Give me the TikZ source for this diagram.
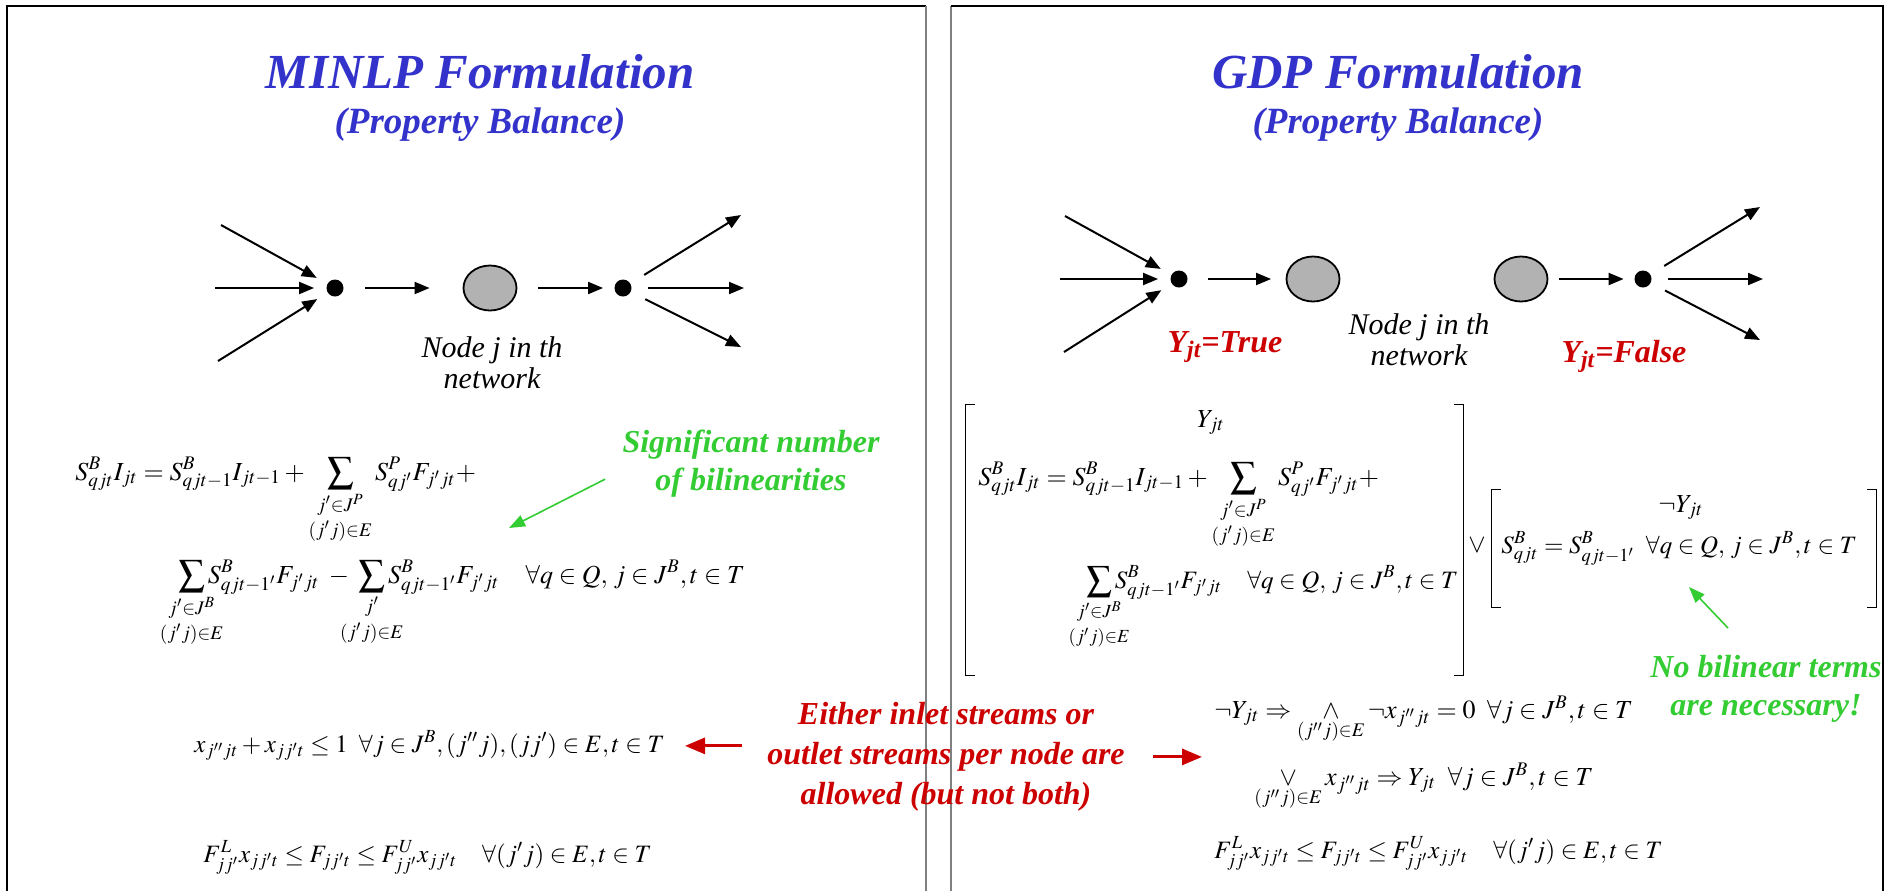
\documentclass[tikz,border=0pt]{standalone}
\usepackage{amsmath}
\usepackage{mathtools}
\usepackage{mathptmx}
\usepackage{fontspec}
\setmainfont{Liberation Serif}
\usetikzlibrary{arrows.meta,shapes.geometric}
\definecolor{titleblue}{RGB}{51,51,204}
\definecolor{alertred}{RGB}{204,0,0}
\definecolor{notegreen}{RGB}{51,204,51}

\begin{document}
\begin{tikzpicture}[x=0.5pt,y=-0.5pt,
  heading/.style={text=titleblue,font=\bfseries\itshape\fontsize{24.5}{30}\selectfont,anchor=base,inner sep=0},
  subheading/.style={text=titleblue,font=\bfseries\itshape\fontsize{18.5}{23}\selectfont,anchor=base,inner sep=0},
  junction/.style={circle,fill=black,minimum size=8.5pt,inner sep=0},
  unit/.style={ellipse,draw,line width=0.9pt,fill=black!30,minimum width=26.5pt,minimum height=22.5pt,inner sep=0},
  caption/.style={font=\itshape\fontsize{15}{15.5}\selectfont,align=center,anchor=north,inner sep=0},
  flow/.style={-{Triangle[length=7.5pt,width=6pt]},line width=1pt},
  eqn/.style={anchor=base west,inner sep=0,font=\fontsize{13}{15}\selectfont},
  eqs/.style={eqn,font=\fontsize{12.5}{15}\selectfont},
  sel/.style={anchor=base,inner sep=0,font=\fontsize{13}{15}\selectfont},
  brace/.style={line width=0.7pt},
  remark/.style={text=notegreen,font=\bfseries\itshape\fontsize{16}{19}\selectfont,align=center,anchor=north,inner sep=0},
  hint/.style={draw=notegreen,line width=0.8pt,-{Triangle[length=8pt,width=6pt]}},
  alert/.style={text=alertred,font=\bfseries\itshape\fontsize{16}{20}\selectfont,align=center,anchor=north,inner sep=0},
  warn/.style={draw=alertred,line width=1.5pt,-{Triangle[length=10pt,width=8pt]}},
  flag/.style={text=alertred,font=\bfseries\itshape\fontsize{16}{19}\selectfont,anchor=base,inner sep=0},
  frame/.style={line width=1pt}
]
  \useasboundingbox (0,0) rectangle (1891,891);
  \draw[frame] (7,891) -- (7,6) -- (926,6);
  \draw[frame,gray] (926,6) -- (926,891);
  \draw[frame,gray] (951,891) -- (951,6);
  \draw[frame] (951,6) -- (1883,6) -- (1883,891);

  \node[heading] (minlp) at (480,88) {MINLP Formulation};
  \node[subheading] (minlpsub) at (480,133) {(Property Balance)};
  \node[heading] (gdp) at (1398,88) {GDP Formulation};
  \node[subheading] (gdpsub) at (1398,133) {(Property Balance)};

  \node[junction] (mixL) at (335,288) {};
  \node[unit] (unitL) at (490,288) {};
  \node[junction] (splitL) at (623,288) {};
  \coordinate (inL1) at (221,225);
  \coordinate (inL2) at (215,288);
  \coordinate (inL3) at (218,361);
  \coordinate (outL1) at (741,215);
  \coordinate (outL2) at (744,288);
  \coordinate (outL3) at (741,347);
  \draw[flow,shorten >=6pt] (inL1) -- (mixL);
  \draw[flow,shorten >=6pt] (inL2) -- (mixL);
  \draw[flow,shorten >=6pt] (inL3) -- (mixL);
  \draw[flow,shorten <=10.5pt,shorten >=16.5pt] (mixL) -- (unitL);
  \draw[flow,shorten <=10.5pt,shorten >=5.5pt] (unitL) -- (splitL);
  \draw[flow,shorten <=8pt] (splitL) -- (outL1);
  \draw[flow,shorten <=8pt] (splitL) -- (outL2);
  \draw[flow,shorten <=8pt] (splitL) -- (outL3);
  \node[caption] (nodeL) at (492,336) {Node j in th\\network};

  \node[junction] (mixR) at (1179,279) {};
  \node[unit] (unitA) at (1313,279) {};
  \node[unit] (unitB) at (1521,279) {};
  \node[junction] (splitR) at (1643,279) {};
  \coordinate (inR1) at (1065,216);
  \coordinate (inR2) at (1060,279);
  \coordinate (inR3) at (1064,352);
  \coordinate (outR1) at (1760,207);
  \coordinate (outR2) at (1763,279);
  \coordinate (outR3) at (1760,340);
  \draw[flow,shorten >=6pt] (inR1) -- (mixR);
  \draw[flow,shorten >=6pt] (inR2) -- (mixR);
  \draw[flow,shorten >=6pt] (inR3) -- (mixR);
  \draw[flow,shorten <=10.25pt,shorten >=7.25pt] (mixR) -- (unitA);
  \draw[flow,shorten <=5.5pt,shorten >=5.25pt] (unitB) -- (splitR);
  \draw[flow,shorten <=8pt] (splitR) -- (outR1);
  \draw[flow,shorten <=8pt] (splitR) -- (outR2);
  \draw[flow,shorten <=8pt] (splitR) -- (outR3);
  \node[caption] (nodeR) at (1419,313) {Node j in th\\network};
  \node[flag] (yTrue) at (1225,352) {Y\textsubscript{jt}=True};
  \node[flag] (yFalse) at (1624,362) {Y\textsubscript{jt}=False};

  \node[eqn] (balL1) at (75,480) {$\displaystyle S^{B}_{qjt}I_{jt}=S^{B}_{qjt-1}I_{jt-1}+\sum_{\substack{j'\in J^{P}\\[2pt](j'j)\in E}}S^{P}_{qj'}F_{j'jt}+$};
  \node[eqn] (balL2) at (178,583) {$\displaystyle\sum_{\mathclap{\substack{j'\in J^{B}\\[2pt](j'j)\in E}}}S^{B}_{qjt-1'}F_{j'jt}\;-\;\sum_{\mathclap{\substack{j'\\[2pt](j'j)\in E}}}S^{B}_{qjt-1'}F_{j'jt}\quad\forall q\in Q,\,j\in J^{B},t\in T$};
  \node[eqs] (excl) at (194,752) {$x_{j''jt}+x_{jj't}\le 1\;\;\forall j\in J^{B},(j''j),(jj')\in E,t\in T$};
  \node[eqs] (boundL) at (203,862) {$F^{L}_{jj'}x_{jj't}\le F_{jj't}\le F^{U}_{jj'}x_{jj't}\quad\forall(j'j)\in E,t\in T$};
  \node[remark] (bilin) at (751,430) {Significant number\\of bilinearities};
  \coordinate (bilinTip) at (509,528);
  \draw[hint] ([shift={(-17,-19)}]bilin.south west) -- (bilinTip);

  \node[sel] (selTrue) at (1211,427) {$Y_{jt}$};
  \node[eqn] (balR1) at (978,485) {$\displaystyle S^{B}_{qjt}I_{jt}=S^{B}_{qjt-1}I_{jt-1}+\sum_{\substack{j'\in J^{P}\\[2pt](j'j)\in E}}S^{P}_{qj'}F_{j'jt}+$};
  \node[eqs] (balR2) at (1086,588) {$\displaystyle\sum_{\mathclap{\substack{j'\in J^{B}\\[2pt](j'j)\in E}}}S^{B}_{qjt-1'}F_{j'jt}\quad\forall q\in Q,\,j\in J^{B},t\in T$};
  \node[minimum width=248.5pt,minimum height=135pt,inner sep=0] (trueblk) at (1214.5,540) {};
  \draw[brace] ([xshift=4.5pt]trueblk.north west) -- (trueblk.north west) -- (trueblk.south west) -- ([xshift=4.5pt]trueblk.south west);
  \draw[brace] ([xshift=-4.5pt]trueblk.north east) -- (trueblk.north east) -- (trueblk.south east) -- ([xshift=-4.5pt]trueblk.south east);
  \node[inner sep=0,font=\fontsize{13}{15}\selectfont] (orop) at (1477,545) {$\vee$};
  \node[sel] (selFalse) at (1681,512) {$\neg Y_{jt}$};
  \node[eqs] (keepR) at (1501,553) {$S^{B}_{qjt}=S^{B}_{qjt-1'}\;\;\forall q\in Q,\,j\in J^{B},t\in T$};
  \node[minimum width=192pt,minimum height=58.5pt,inner sep=0] (falseblk) at (1684,548.5) {};
  \draw[brace] ([xshift=4.5pt]falseblk.north west) -- (falseblk.north west) -- (falseblk.south west) -- ([xshift=4.5pt]falseblk.south west);
  \draw[brace] ([xshift=-4.5pt]falseblk.north east) -- (falseblk.north east) -- (falseblk.south east) -- ([xshift=-4.5pt]falseblk.south east);
  \node[remark] (nobilin) at (1766,655) {No bilinear terms\\are necessary!};
  \coordinate (keepTip) at (1689,587);
  \draw[hint] ([shift={(-38,-27)}]nobilin.north) -- (keepTip);

  \node[eqn] (offR) at (1214,718) {$\neg Y_{jt}\Rightarrow\mathop{\wedge}\limits_{(j''j)\in E}\neg x_{j''jt}=0\;\;\forall j\in J^{B},t\in T$};
  \node[eqn] (onR) at (1254,785) {$\mathop{\vee}\limits_{(j''j)\in E}x_{j''jt}\Rightarrow Y_{jt}\;\;\forall j\in J^{B},t\in T$};
  \node[eqs] (boundR) at (1214,858) {$F^{L}_{jj'}x_{jj't}\le F_{jj't}\le F^{U}_{jj'}x_{jj't}\quad\forall(j'j)\in E,t\in T$};

  \node[alert] (either) at (946,702) {Either inlet streams or\\outlet streams per node are\\allowed (but not both)};
  \draw[warn,shorten <=12.5pt,shorten >=10pt] (either.west |- excl.east) -- (excl.east);
  \draw[warn,shorten <=14pt,shorten >=26pt] (either.east) -- (either.east -| onR.west);
\end{tikzpicture}
\end{document}
